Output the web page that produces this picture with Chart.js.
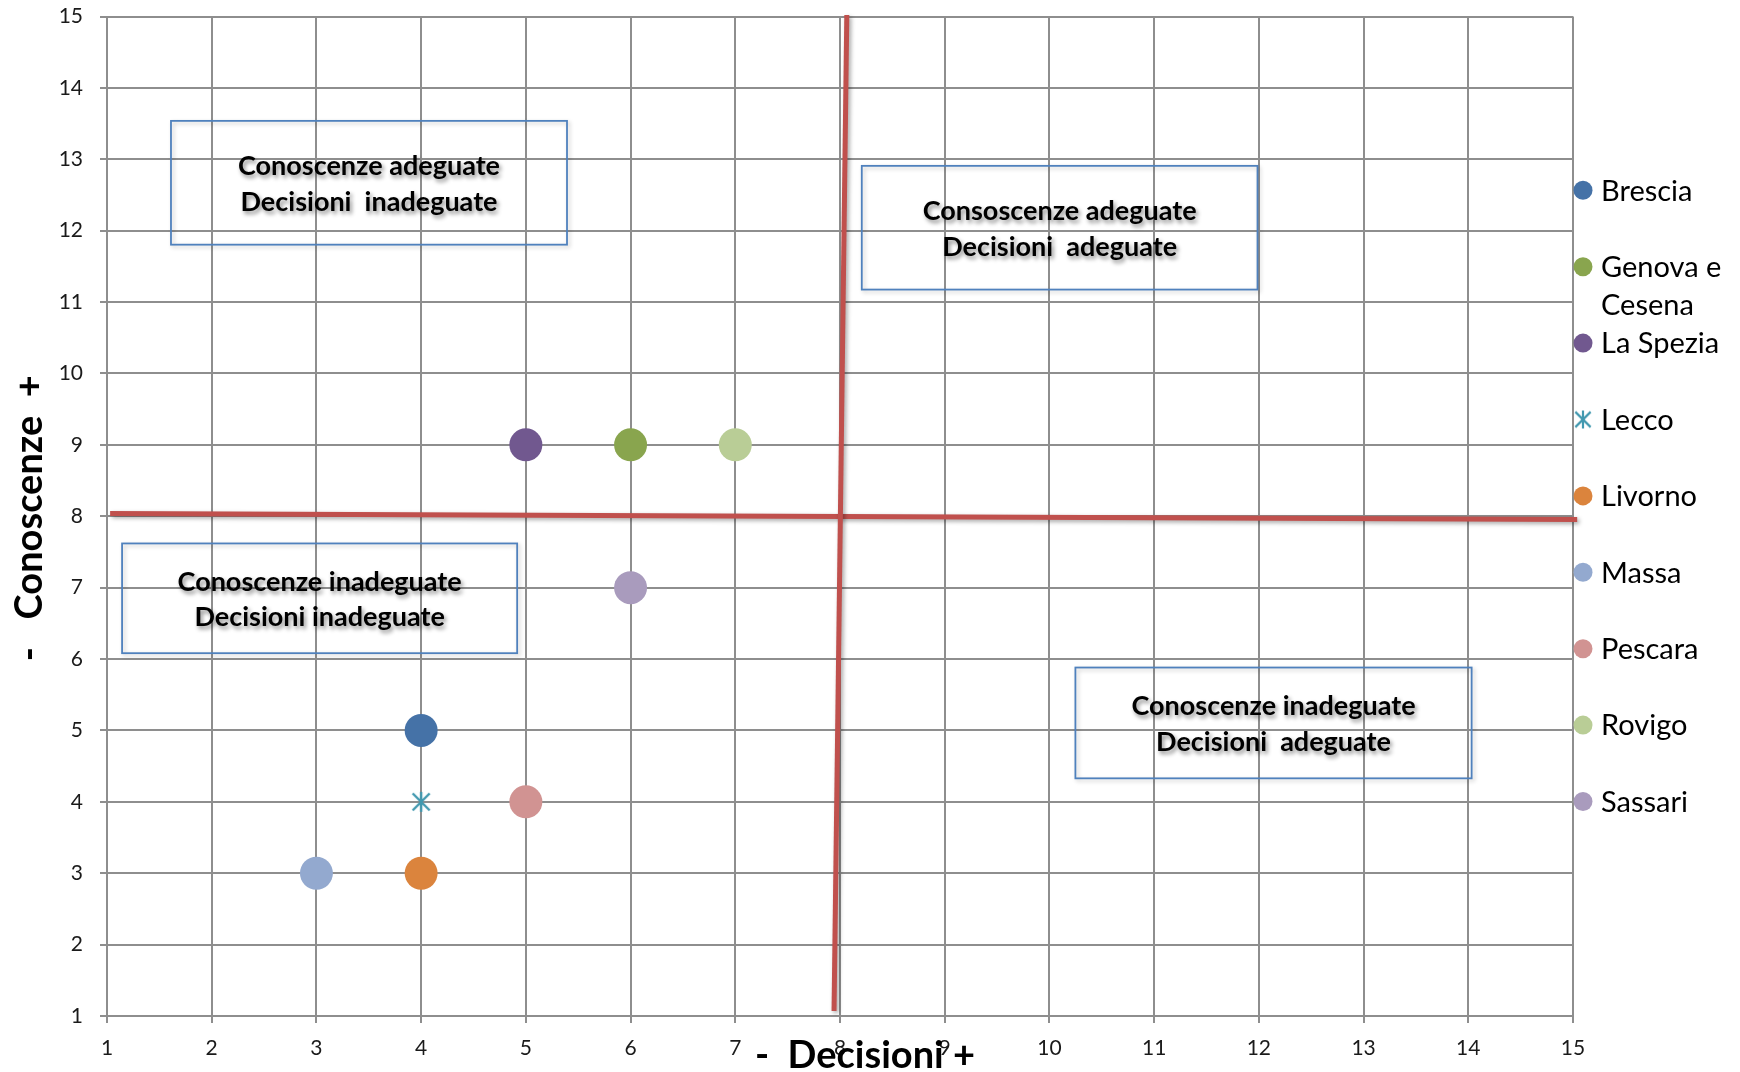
<!DOCTYPE html>
<html>
<head>
<meta charset="utf-8">
<script src="https://cdn.jsdelivr.net/npm/chart.js@4.4.1/dist/chart.umd.min.js"></script>
<style>
  html, body { margin: 0; padding: 0; background: #ffffff; }
  #wrap { width: 1740px; height: 1072px; }
</style>
</head>
<body>
<div id="wrap"><canvas id="chart" width="1740" height="1072"></canvas></div>
<script>
// Cities and their scores on the two axes
const cities = ['Brescia', 'Genova e Cesena', 'La Spezia', 'Lecco', 'Livorno', 'Massa', 'Pescara', 'Rovigo', 'Sassari'];
const decisioni = [4, 6, 5, 4, 4, 3, 5, 7, 6];
const conoscenze = [5, 9, 9, 4, 3, 3, 4, 9, 7];
const cityColours = ['#4572A7', '#89A54E', '#71588F', '#4198AF', '#DB843D', '#93A9CF', '#D19392', '#B9CD96', '#A99BBD'];
const cityMarkers = ['circle', 'circle', 'circle', 'star', 'circle', 'circle', 'circle', 'circle', 'circle'];

// Axis range (both axes run 1..15 in steps of 1)
const axisMin = 1;
const axisMax = 15;
const axisStep = 1;

// Hand-drawn quadrant dividers (slightly tilted)
const dividerDecisioni = [{ x: 8.065, y: 15.02 }, { x: 7.943, y: 1.07 }];
const dividerConoscenze = [{ x: 1.03, y: 8.037 }, { x: 15.04, y: 7.955 }];

// Quadrant captions
const quadrantText = [
  ['Conoscenze adeguate', 'Decisioni  inadeguate'],
  ['Consoscenze adeguate', 'Decisioni  adeguate'],
  ['Conoscenze inadeguate', 'Decisioni inadeguate'],
  ['Conoscenze inadeguate', 'Decisioni  adeguate']
];
// Caption frames, in axis units: [xLeft, yTop, xRight, yBottom]
const quadrantFrames = [
  [1.611, 13.538, 5.393, 11.804],
  [8.208, 12.908, 11.987, 11.175],
  [1.144, 7.619, 4.917, 6.082],
  [10.248, 5.881, 14.032, 4.329]
];

const xTitle = '-  Decisioni +';
const yTitle = '-   Conoscenze  +';

const FONT = 'Lato, "Open Sans", "DejaVu Sans", sans-serif';
const RED = '#C0504D';

// Excel-style star marker: an X crossed by a vertical bar
function makeStar(size, colour, width) {
  const c = document.createElement('canvas');
  c.width = size; c.height = size;
  const g = c.getContext('2d');
  const m = size / 2, r = size / 2 - 2;
  g.strokeStyle = colour;
  g.lineWidth = width;
  g.lineCap = 'butt';
  g.beginPath();
  g.moveTo(m - r * 0.85, m - r * 0.85); g.lineTo(m + r * 0.85, m + r * 0.85);
  g.moveTo(m + r * 0.85, m - r * 0.85); g.lineTo(m - r * 0.85, m + r * 0.85);
  g.moveTo(m, m - r); g.lineTo(m, m + r);
  g.stroke();
  return c;
}
const starPoint = makeStar(24, '#4198AF', 2.4);

const cityDatasets = cities.map((name, i) => ({
  label: name,
  data: [{ x: decisioni[i], y: conoscenze[i] }],
  backgroundColor: cityColours[i],
  borderColor: cityColours[i],
  borderWidth: 0,
  pointStyle: cityMarkers[i] === 'star' ? starPoint : 'circle',
  pointRadius: 16.5,
  pointHoverRadius: 16.5,
  showLine: false,
  isCity: true
}));

const dividerDatasets = [dividerDecisioni, dividerConoscenze].map((pts, i) => ({
  label: 'divider' + i,
  data: pts,
  showLine: true,
  borderColor: RED,
  backgroundColor: RED,
  borderWidth: 5,
  pointRadius: 0,
  clip: false,
  isDivider: true
}));

const axisTickList = [];
for (let v = axisMin; v <= axisMax; v += axisStep) axisTickList.push(v);

// Soft shadow under the red dividers
const dividerShadow = {
  id: 'dividerShadow',
  beforeDatasetDraw(chart, args) {
    const ds = chart.data.datasets[args.index];
    if (!ds.isDivider) return;
    const ctx = chart.ctx;
    ctx.save();
    ctx.shadowColor = 'rgba(0,0,0,0.35)';
    ctx.shadowBlur = 4;
    ctx.shadowOffsetX = 2;
    ctx.shadowOffsetY = 2;
  },
  afterDatasetDraw(chart, args) {
    const ds = chart.data.datasets[args.index];
    if (ds.isDivider) chart.ctx.restore();
  }
};

// Framed captions for the four quadrants
const quadrantCaptions = {
  id: 'quadrantCaptions',
  beforeDatasetsDraw(chart) {
    const { ctx, scales: { x, y } } = chart;
    quadrantFrames.forEach((f, i) => {
      const l = x.getPixelForValue(f[0]), t = y.getPixelForValue(f[1]);
      const r = x.getPixelForValue(f[2]), b = y.getPixelForValue(f[3]);
      ctx.save();
      ctx.shadowColor = 'rgba(0,0,0,0.22)';
      ctx.shadowBlur = 4;
      ctx.shadowOffsetX = 2;
      ctx.shadowOffsetY = 2;
      ctx.strokeStyle = '#4F81BD';
      ctx.lineWidth = 1.8;
      ctx.strokeRect(l, t, r - l, b - t);
      ctx.restore();

      ctx.save();
      ctx.font = 'bold 27px ' + FONT;
      ctx.fillStyle = '#000000';
      ctx.textAlign = 'center';
      ctx.textBaseline = 'middle';
      ctx.shadowColor = 'rgba(0,0,0,0.45)';
      ctx.shadowBlur = 4;
      ctx.shadowOffsetX = 2;
      ctx.shadowOffsetY = 3;
      const cx = (l + r) / 2, cy = (t + b) / 2 + 1.5;
      const lines = quadrantText[i];
      const lh = 35.5;
      lines.forEach((s, k) => {
        ctx.fillText(s, cx, cy + (k - (lines.length - 1) / 2) * lh);
      });
      ctx.restore();
    });
  }
};

// Axis titles and the legend column on the right
const titlesAndLegend = {
  id: 'titlesAndLegend',
  afterDraw(chart) {
    const { ctx, chartArea: ca } = chart;
    ctx.save();
    ctx.fillStyle = '#000000';
    ctx.font = 'bold 38px ' + FONT;
    ctx.textBaseline = 'alphabetic';
    ctx.textAlign = 'center';
    ctx.fillText(xTitle, (ca.left + ca.right) / 2 + 25, 1068);

    ctx.save();
    ctx.translate(42, (ca.top + ca.bottom) / 2 + 2);
    ctx.rotate(-Math.PI / 2);
    ctx.fillText(yTitle, 0, 0);
    ctx.restore();

    // legend
    const items = chart.data.datasets.filter(d => d.isCity);
    const markerX = ca.right + 10;
    const textX = ca.right + 28;
    const maxW = chart.width - textX - 2;
    ctx.font = '29px ' + FONT;
    ctx.textAlign = 'left';
    ctx.textBaseline = 'middle';
    items.forEach((d, i) => {
      const yy = 190.3 + i * 76.4;
      if (d.pointStyle === 'circle') {
        ctx.beginPath();
        ctx.fillStyle = d.backgroundColor;
        ctx.arc(markerX, yy, 9.5, 0, Math.PI * 2);
        ctx.fill();
      } else {
        const s = makeStar(22, d.backgroundColor, 2.2);
        ctx.drawImage(s, markerX - 11, yy - 11);
      }
      ctx.fillStyle = '#000000';
      // word wrap
      const words = d.label.split(' ');
      const lines = [];
      let cur = '';
      words.forEach(w => {
        const test = cur ? cur + ' ' + w : w;
        if (ctx.measureText(test).width > maxW && cur) { lines.push(cur); cur = w; }
        else cur = test;
      });
      lines.push(cur);
      lines.forEach((s, k) => ctx.fillText(s, textX, yy + 1 + k * 38));
    });
    ctx.restore();
  }
};

const gridColour = '#8E8E8E';

new Chart(document.getElementById('chart'), {
  type: 'scatter',
  data: { datasets: [...cityDatasets, ...dividerDatasets] },
  options: {
    responsive: false,
    animation: false,
    devicePixelRatio: 1,
    events: [],
    layout: { padding: { top: 0, right: 167, left: 0, bottom: 0 } },
    plugins: {
      legend: { display: false },
      tooltip: { enabled: false }
    },
    scales: {
      x: {
        type: 'linear',
        min: axisMin,
        max: axisMax,
        afterBuildTicks(scale) { scale.ticks = axisTickList.map(v => ({ value: v })); },
        afterFit(scale) { scale.height = 56; },
        grid: { color: gridColour, lineWidth: 2, tickLength: 7, drawTicks: true },
        border: { color: gridColour, width: 2 },
        ticks: { padding: 13, color: '#1a1a1a', font: { family: FONT, size: 21 }, maxRotation: 0, autoSkip: false }
      },
      y: {
        type: 'linear',
        min: axisMin,
        max: axisMax,
        afterBuildTicks(scale) { scale.ticks = axisTickList.map(v => ({ value: v })); },
        afterFit(scale) {
          scale.width = 107;
          scale.paddingTop = 15;
          scale.paddingBottom = 0;
        },
        grid: { color: gridColour, lineWidth: 2, tickLength: 7, drawTicks: true },
        border: { color: gridColour, width: 2 },
        ticks: { padding: 17, color: '#1a1a1a', font: { family: FONT, size: 21 }, autoSkip: false }
      }
    }
  },
  plugins: [dividerShadow, quadrantCaptions, titlesAndLegend]
});
</script>
</body>
</html>
